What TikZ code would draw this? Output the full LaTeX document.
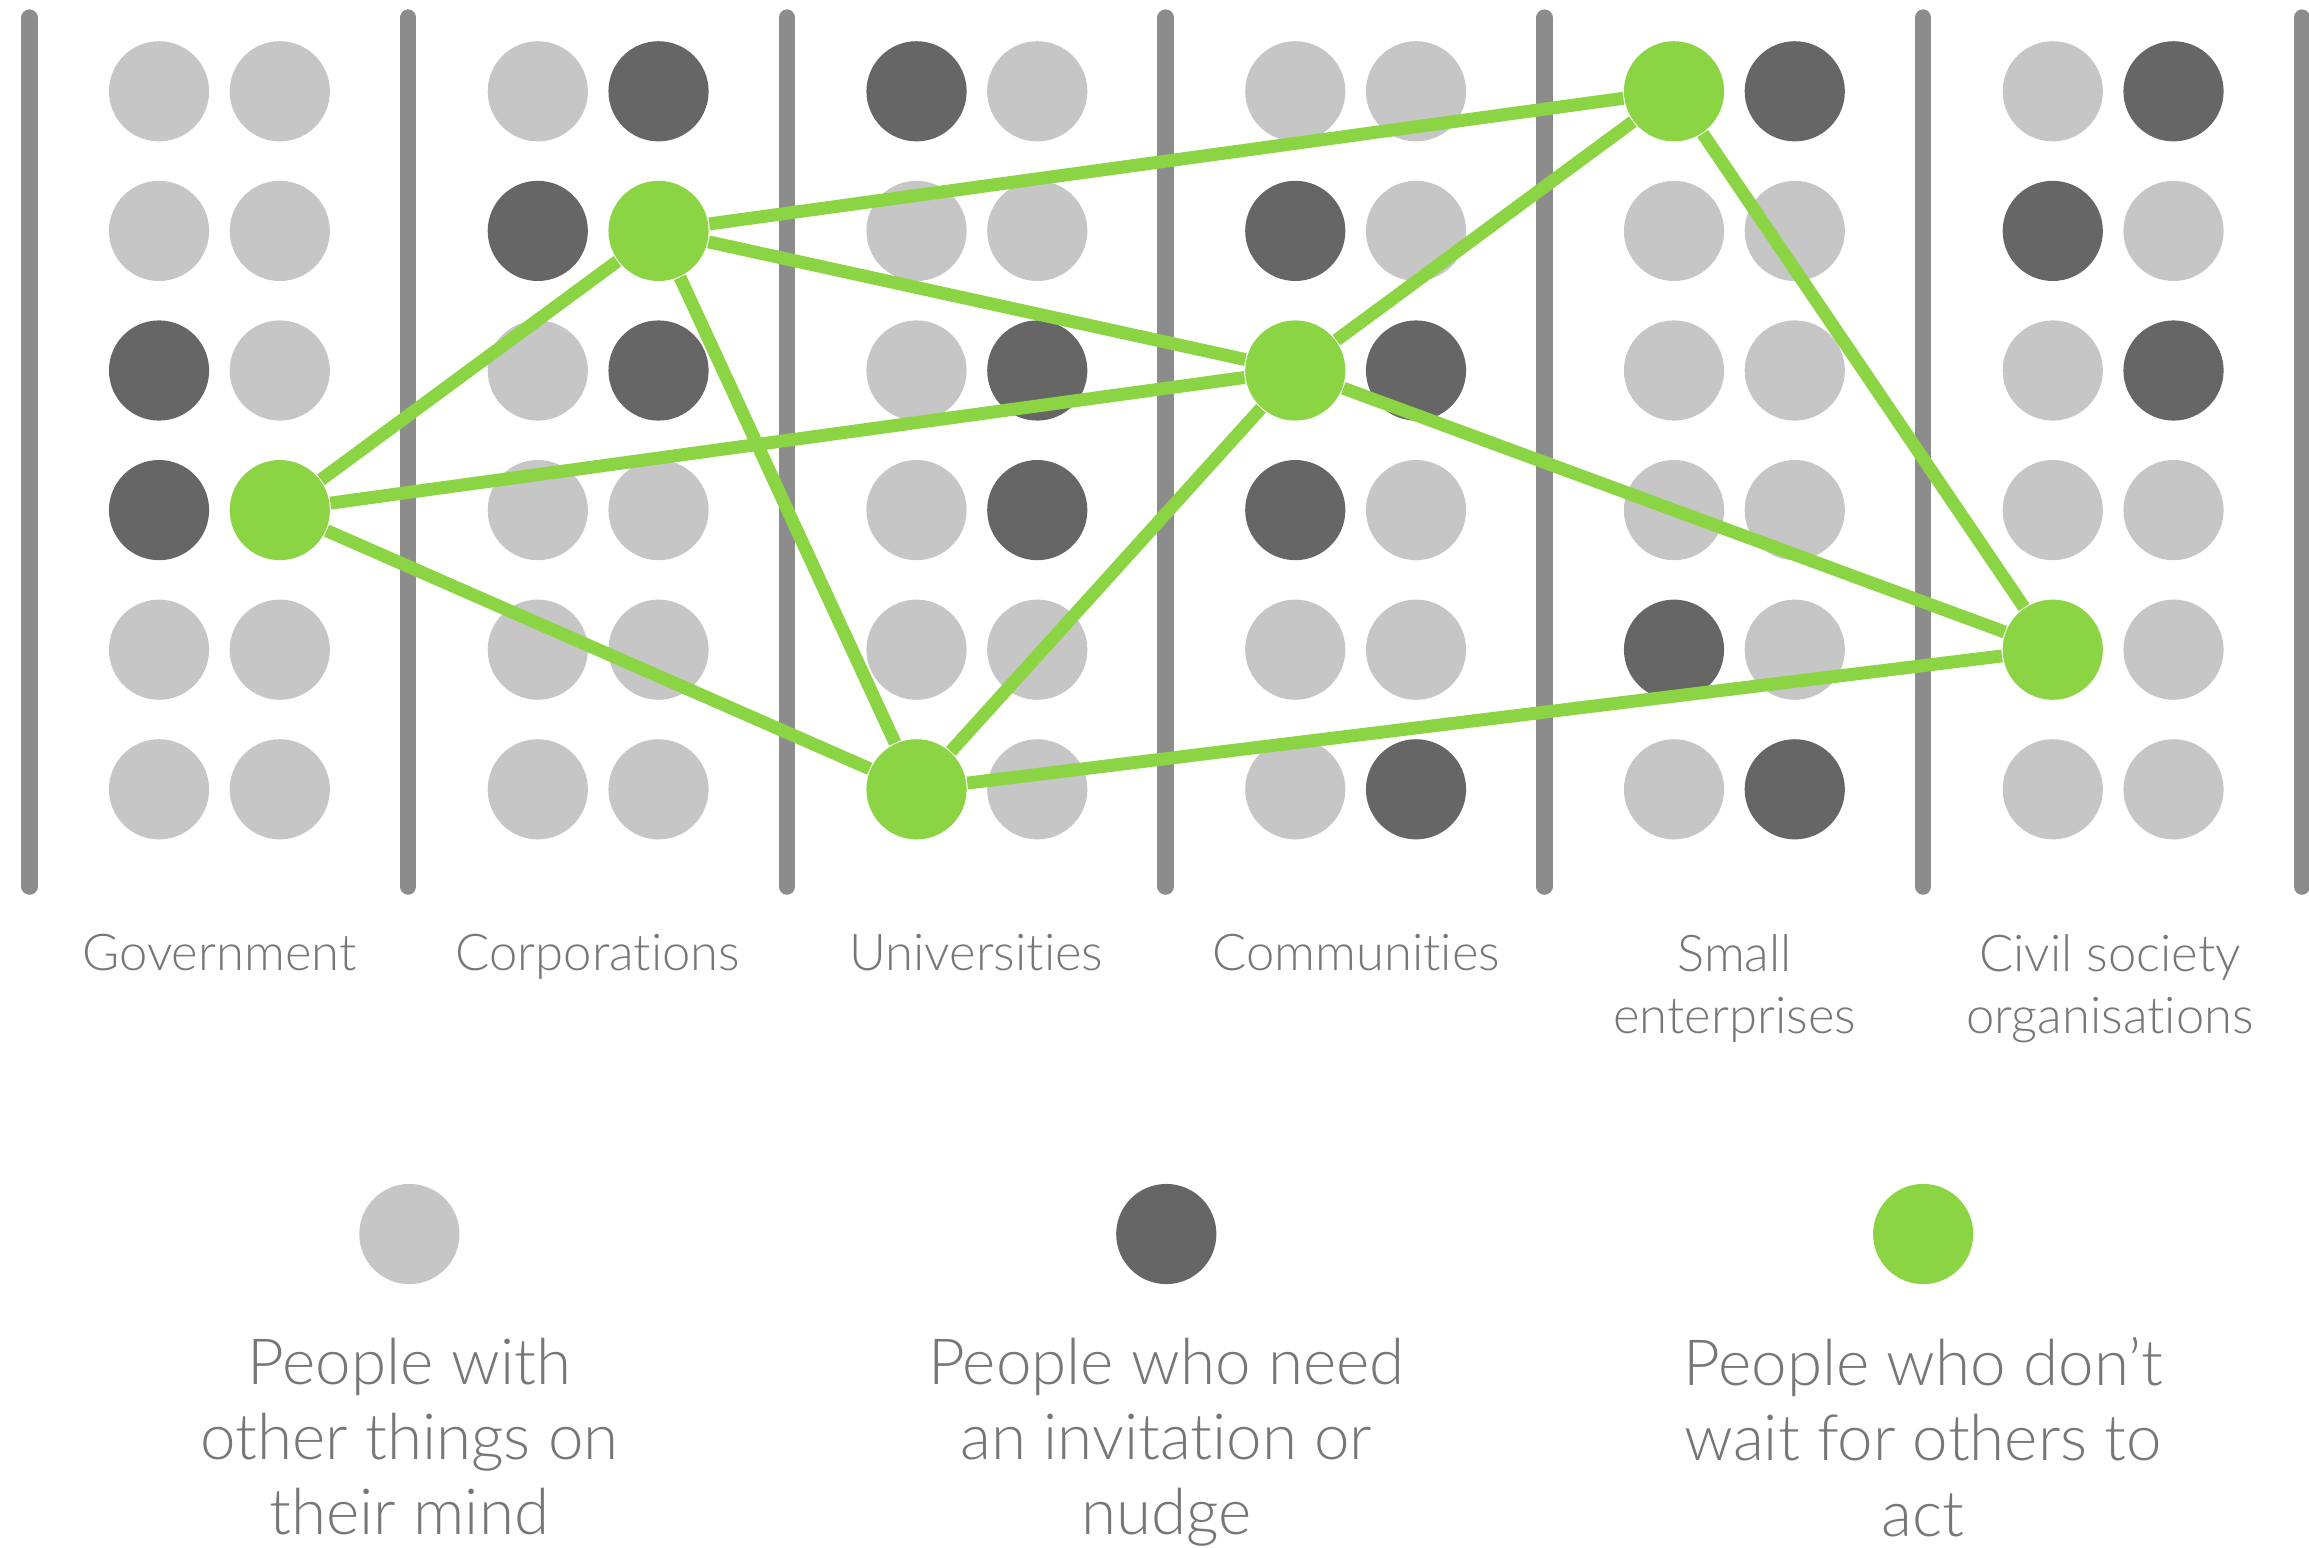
\documentclass[tikz,border=0pt]{standalone}
\usepackage{fontspec}
\setmainfont{Lato}[UprightFont=* Light, Ligatures=NoCommon]
\usetikzlibrary{positioning}
\definecolor{idlegrey}{HTML}{C6C6C6}
\definecolor{nudgegrey}{HTML}{666666}
\definecolor{actgreen}{HTML}{8BD443}
\definecolor{bargrey}{HTML}{8C8C8C}
\definecolor{textgrey}{HTML}{777777}
\tikzset{
  person/.style={circle, inner sep=0pt, minimum size=0.68cm},
  idle/.style={person, fill=idlegrey},
  nudge/.style={person, fill=nudgegrey},
  actor/.style={person, fill=actgreen},
  divider/.style={draw=bargrey, line width=3.2pt, line cap=round},
  link/.style={draw=actgreen, line width=2.5pt},
  sector/.style={text=textgrey, align=center, anchor=north, inner sep=0pt,
    font=\fontsize{9.8pt}{11.95pt}\selectfont},
  keytext/.style={text=textgrey, align=center, anchor=north, inner sep=0pt,
    font=\fontsize{12.3pt}{14.5pt}\selectfont},
}
\begin{document}
\begin{tikzpicture}[x=0.01cm, y=-0.01cm]
  \useasboundingbox (0,0) rectangle (1568,1051);
  \def\colgap{257.2}
  \def\rowgap{94.8}
  % dividers between the sectors
  \foreach \c in {0,...,6}
    \draw[divider] ({20+\colgap*\c},12) -- ({20+\colgap*\c},602);
  % two columns of people in every sector
  \foreach \grp/\ka/\kb [count=\c from 0] in {
      gov/{idle,idle,nudge,nudge,idle,idle}/{idle,idle,idle,actor,idle,idle},
      corp/{idle,nudge,idle,idle,idle,idle}/{nudge,actor,nudge,idle,idle,idle},
      uni/{nudge,idle,idle,idle,idle,actor}/{idle,idle,nudge,nudge,idle,idle},
      comm/{idle,nudge,actor,nudge,idle,idle}/{idle,idle,nudge,idle,idle,nudge},
      small/{actor,idle,idle,idle,nudge,idle}/{nudge,idle,idle,idle,idle,nudge},
      civil/{idle,nudge,idle,idle,actor,idle}/{nudge,idle,nudge,idle,idle,idle}} {
    \foreach \k [count=\r] in \ka
      \node[\k] (\grp-a-\r) at ({108+\colgap*\c},{62+\rowgap*(\r-1)}) {};
    \foreach \k [count=\r] in \kb
      \node[\k] (\grp-b-\r) at ({190+\colgap*\c},{62+\rowgap*(\r-1)}) {};
  }
  % links between the people who act
  \draw[link] (gov-b-4) -- (corp-b-2);
  \draw[link] (gov-b-4) -- (comm-a-3);
  \draw[link] (gov-b-4) -- (uni-a-6);
  \draw[link] (corp-b-2) -- (small-a-1);
  \draw[link] (corp-b-2) -- (comm-a-3);
  \draw[link] (corp-b-2) -- (uni-a-6);
  \draw[link] (uni-a-6) -- (comm-a-3);
  \draw[link] (uni-a-6) -- (civil-a-5);
  \draw[link] (comm-a-3) -- (small-a-1);
  \draw[link] (comm-a-3) -- (civil-a-5);
  \draw[link] (small-a-1) -- (civil-a-5);
  % sector names
  \node[sector] (name-gov) at (149,634) {Government};
  \node[sector] (name-corp) at (406,634) {Corporations};
  \node[sector] (name-uni) at (663,634) {Universities};
  \node[sector] (name-comm) at (921,634) {Communities};
  \node[sector] (name-small) at (1178,634) {Small\\enterprises};
  \node[sector] (name-civil) at (1433,634) {Civil society\\organisations};
  % key
  \node[idle] (key-idle) at (278,838) {};
  \node[nudge] (key-nudge) at (792,838) {};
  \node[actor] (key-actor) at (1306,838) {};
  \node[keytext, below=0.35cm of key-idle] (txt-idle) {People with\\other things on\\their mind};
  \node[keytext, below=0.35cm of key-nudge] (txt-nudge) {People who need\\an invitation or\\nudge};
  \node[keytext, below=0.35cm of key-actor] (txt-actor) {People who don’t\\wait for others to\\act};
\end{tikzpicture}
\end{document}
